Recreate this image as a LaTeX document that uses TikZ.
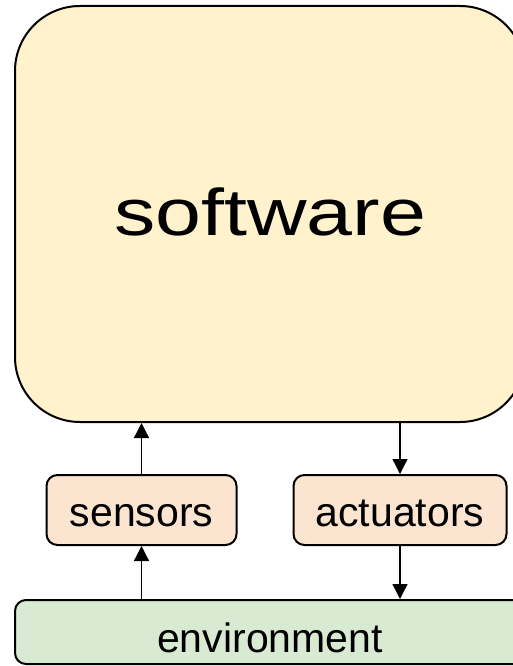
\documentclass[tikz,border=0pt]{standalone}
\usepackage{fontspec}
\setmainfont{Liberation Sans}
\usetikzlibrary{arrows.meta}
\definecolor{swfill}{HTML}{FFF2CC}
\definecolor{iofill}{HTML}{FBE4D0}
\definecolor{envfill}{HTML}{D9EAD3}
\begin{document}
\begin{tikzpicture}[x=1pt,y=-1pt,
  box/.style={draw=black,line width=2pt,inner sep=0pt,align=center},
  smalltext/.style={font=\fontsize{41}{48}\selectfont,text depth=0pt},
  conn/.style={line width=1.3pt,-{Triangle[length=15pt,width=15pt]}}]
\useasboundingbox (0,0) rectangle (513,666);
\clip (0,0) rectangle (513,666);
\node[box,fill=swfill,rounded corners=65pt,minimum width=510pt,minimum height=416pt,
  font=\fontsize{66}{78}\selectfont,text depth=4pt] (sw) at (270,214) {\scalebox{1.25}[1]{software}};
\node[box,fill=iofill,rounded corners=11pt,minimum width=190pt,minimum height=70pt,smalltext,text height=32pt] (sens) at (141.5,510) {sensors};
\node[box,fill=iofill,rounded corners=11pt,minimum width=213pt,minimum height=70pt,smalltext,text height=32pt] (act) at (400,510) {actuators};
\node[box,fill=envfill,rounded corners=11pt,minimum width=510pt,minimum height=64pt,smalltext,text height=40pt] (env) at (270,632) {environment};
\draw[conn] (env.north -| sens.south) -- (sens.south);
\draw[conn] (sens.north) -- (sw.south -| sens.north);
\draw[conn] (sw.south -| act.north) -- (act.north);
\draw[conn] (act.south) -- (env.north -| act.south);
\end{tikzpicture}
\end{document}
